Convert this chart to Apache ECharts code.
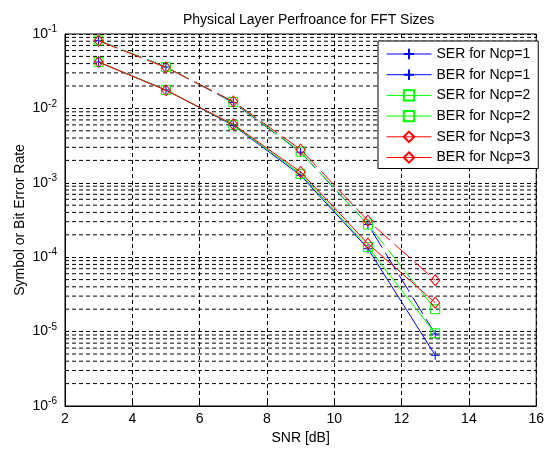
<!DOCTYPE html>
<html>
<head>
<meta charset="utf-8">
<script src="https://cdn.jsdelivr.net/npm/echarts@6/dist/echarts.min.js"></script>
<style>html,body{margin:0;padding:0;background:#fff;}#c{width:547px;height:450px;}</style>
</head>
<body>
<div id="c"></div>
<script>
// ---- data ----
const snr = [3, 5, 7, 9, 11, 13];
const serNcp1 = [0.082, 0.036, 0.0120, 0.00258, 2.75e-4, 9.3e-6];
const berNcp1 = [0.042, 0.0177, 0.0059, 0.00126, 1.30e-4, 4.8e-6];
const serNcp2 = [0.082, 0.036, 0.0122, 0.00262, 2.75e-4, 2.0e-5];
const berNcp2 = [0.042, 0.0177, 0.0060, 0.00132, 1.37e-4, 9.5e-6];
const serNcp3 = [0.081, 0.0355, 0.0124, 0.0028, 3.1e-4, 4.9e-5];
const berNcp3 = [0.042, 0.0175, 0.0061, 0.0014, 1.52e-4, 2.45e-5];
const seriesNames = ['SER for Ncp=1','BER for Ncp=1','SER for Ncp=2','BER for Ncp=2','SER for Ncp=3','BER for Ncp=3'];
const xTicks = [2, 4, 6, 8, 10, 12, 14, 16];
const yDecades = [-6, -5, -4, -3, -2, -1];

// minor log gridlines (2..9 x 10^e)
const minorGrid = [];
for (let e = -6; e < -1; e++) for (let k = 2; k <= 9; k++) minorGrid.push(k * Math.pow(10, e));

const FONT = 'Arial, "Liberation Sans", sans-serif';
const plusPath = 'path://M0,5L10,5M5,0L5,10';
const styles = [
  {color:'#0000ff', symbol: plusPath, size: 9, dash: [20,6]},
  {color:'#0000ff', symbol: plusPath, size: 9, dash: 'solid'},
  {color:'#00ff00', symbol: 'rect', size: 9, dash: [20,6]},
  {color:'#00ff00', symbol: 'rect', size: 9, dash: 'solid'},
  {color:'#ff0000', symbol: 'diamond', size: [9,11], dash: [20,6]},
  {color:'#ff0000', symbol: 'diamond', size: [9,11], dash: 'solid'}
];
const values = [serNcp1, berNcp1, serNcp2, berNcp2, serNcp3, berNcp3];
const xMin = xTicks[0], xMax = xTicks[xTicks.length - 1];

const series = [];
// minor gridlines as plain dashed line series spanning the x range
minorGrid.forEach((v, k) => {
  series.push({
    type: 'line', name: 'minor' + k, silent: true, z: 1,
    data: [[xMin, v], [xMax, v]],
    symbol: 'none',
    lineStyle: {color: '#000', type: [4,3], width: 1},
    emphasis: {disabled: true},
    tooltip: {show: false}
  });
});

values.forEach((vals, i) => {
  series.push({
    name: seriesNames[i],
    type: 'line',
    data: snr.map((x, j) => [x, vals[j]]),
    symbol: styles[i].symbol,
    symbolSize: styles[i].size,
    showAllSymbol: true,
    lineStyle: {color: styles[i].color, width: 1, type: styles[i].dash},
    itemStyle: {color: 'rgba(0,0,0,0)', borderColor: styles[i].color, borderWidth: 1},
    emphasis: {disabled: true},
    z: 3 + i
  });
});

const chart = echarts.init(document.getElementById('c'), null, {renderer: 'canvas'});
chart.setOption({
  backgroundColor: '#fff',
  animation: false,
  title: {
    text: 'Physical Layer Perfroance for FFT Sizes',
    left: 178, top: 8,
    textStyle: {fontSize: 14, fontWeight: 'normal', color: '#000', fontFamily: FONT}
  },
  grid: {left: 65, right: 3, top: 34, bottom: 37, show: true, borderColor: '#000', borderWidth: 1, backgroundColor: 'rgba(0,0,0,0)'},
  legend: {
    orient: 'vertical', left: 378, top: 41, z: 10,
    backgroundColor: '#fff', borderColor: '#000', borderWidth: 1,
    padding: [6, 8, 4, 8],
    itemWidth: 45, itemHeight: 13, itemGap: 6.7,
    textStyle: {fontSize: 14, color: '#000', fontFamily: FONT},
    data: seriesNames.map(n => ({name: n, lineStyle: {type: 'solid', width: 1}}))
  },
  xAxis: {
    type: 'value', min: xMin, max: xMax, interval: 2,
    name: 'SNR [dB]', nameLocation: 'middle', nameGap: 25, nameMoveOverlap: false,
    nameTextStyle: {fontSize: 14, color: '#000', fontFamily: FONT},
    axisLine: {lineStyle: {color: '#000'}},
    axisTick: {inside: true, length: 4, lineStyle: {color: '#000'}},
    axisLabel: {fontSize: 14, color: '#000', fontFamily: FONT, margin: 6},
    splitLine: {show: true, lineStyle: {color: '#000', type: [4,3], width: 1}}
  },
  yAxis: {
    type: 'log', logBase: 10,
    min: Math.pow(10, yDecades[0]), max: Math.pow(10, yDecades[yDecades.length-1]),
    name: 'Symbol or Bit Error Rate', nameLocation: 'middle', nameGap: 38, nameMoveOverlap: false,
    nameTextStyle: {fontSize: 14, color: '#000', fontFamily: FONT},
    axisLine: {lineStyle: {color: '#000'}},
    axisTick: {inside: true, length: 4, lineStyle: {color: '#000'}},
    axisLabel: {
      margin: 8, color: '#000',
      formatter: v => '{b|10}{s|' + Math.round(Math.log10(v)) + '}',
      rich: {
        b: {fontSize: 14, color: '#000', fontFamily: FONT},
        s: {fontSize: 10, color: '#000', fontFamily: FONT, padding: [0, 0, 9, 0]}
      }
    },
    splitLine: {show: true, lineStyle: {color: '#000', type: [4,3], width: 1}}
  },
  series: series
});
</script>
</body>
</html>
